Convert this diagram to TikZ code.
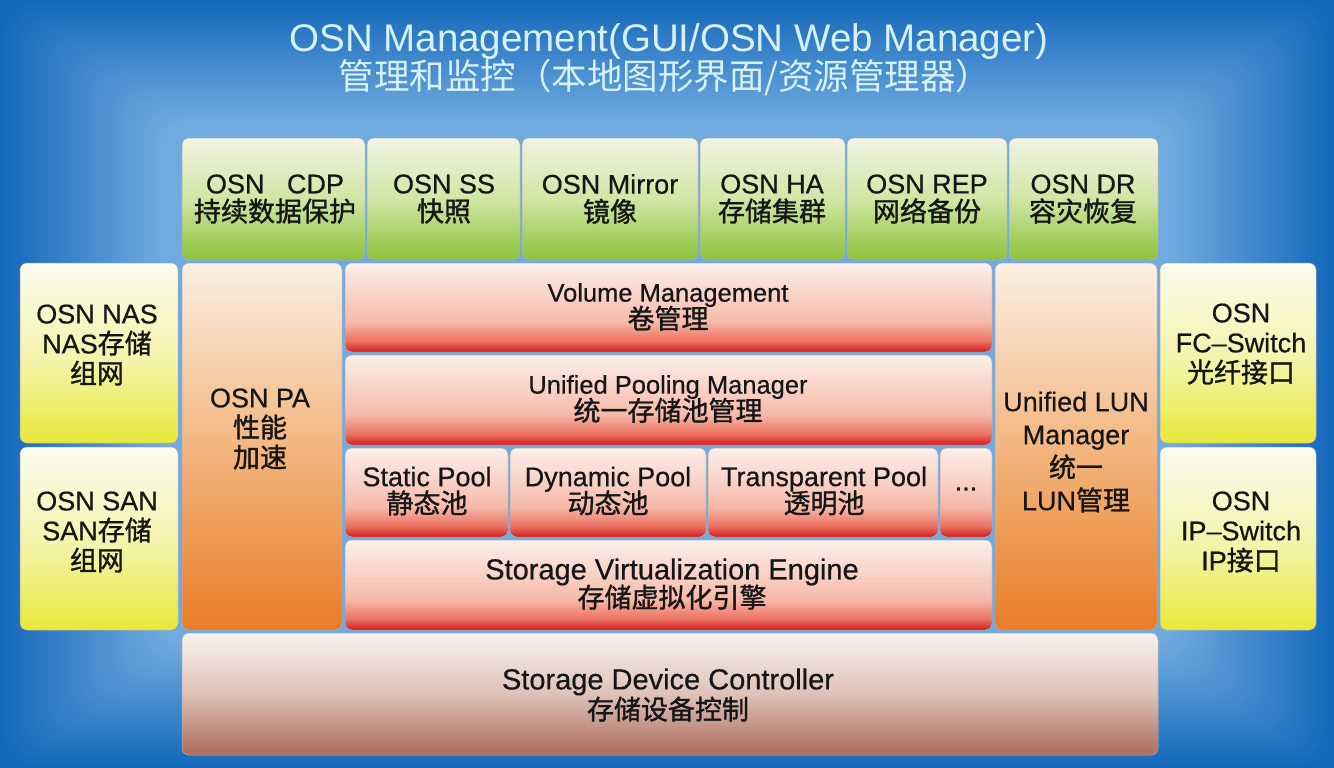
\documentclass[tikz,border=0pt]{standalone}
\usepackage{fontspec}
\setmainfont{Liberation Sans}[FakeBold=0.5]
\newfontfamily\ttlfont{Liberation Sans}
\newfontfamily\cjk{Noto Sans CJK SC}
\newfontfamily\cjkm{Noto Sans CJK SC}[FakeBold=1.2]
\newcommand\zhtxt[1]{{\cjkm #1}}
\definecolor{bgD}{RGB}{20,104,186}
\definecolor{bgL}{RGB}{112,170,224}
\definecolor{txtc}{RGB}{22,22,22}
\definecolor{titc}{RGB}{214,242,248}
\definecolor{greenT}{RGB}{242,244,228}
\definecolor{greenM}{RGB}{208,230,165}
\definecolor{greenB}{RGB}{140,194,58}
\definecolor{yelT}{RGB}{251,251,240}
\definecolor{yelM}{RGB}{244,244,170}
\definecolor{yelB}{RGB}{232,232,58}
\definecolor{orT}{RGB}{251,240,228}
\definecolor{orM}{RGB}{243,182,128}
\definecolor{orB}{RGB}{234,124,38}
\definecolor{redT}{RGB}{252,240,234}
\definecolor{redM}{RGB}{246,186,170}
\definecolor{redM2}{RGB}{236,112,96}
\definecolor{redB}{RGB}{208,28,28}
\definecolor{sdcT}{RGB}{249,242,238}
\definecolor{sdcM}{RGB}{222,194,184}
\definecolor{sdcB}{RGB}{172,108,92}
\pgfdeclareverticalshading{greensh}{100bp}{color(0bp)=(greenB); color(25bp)=(greenB); color(50bp)=(greenM); color(75bp)=(greenT); color(100bp)=(greenT)}
\pgfdeclareverticalshading{yelsh}{100bp}{color(0bp)=(yelB); color(25bp)=(yelB); color(48bp)=(yelM); color(75bp)=(yelT); color(100bp)=(yelT)}
\pgfdeclareverticalshading{orsh}{100bp}{color(0bp)=(orB); color(25bp)=(orB); color(50bp)=(orM); color(75bp)=(orT); color(100bp)=(orT)}
\pgfdeclareverticalshading{redsh}{100bp}{color(0bp)=(redB); color(25bp)=(redB); color(31bp)=(redM2); color(42bp)=(redM); color(75bp)=(redT); color(100bp)=(redT)}
\pgfdeclareverticalshading{sdcsh}{100bp}{color(0bp)=(sdcB); color(25bp)=(sdcB); color(50bp)=(sdcM); color(75bp)=(sdcT); color(100bp)=(sdcT)}
\newcommand\mkbox[6]{\node[#1, minimum width={(#4-#2)*1pt}, minimum height={(#5-#3)*1pt}] (#6) at ({(#2+#4)/2},{(#3+#5)/2}) {};}
\begin{document}
\begin{tikzpicture}[x=1pt,y=-1pt,
  boxb/.style={inner sep=0pt, outer sep=0pt, rounded corners=7pt, draw=black!30, line width=0.5pt, shade},
  gbox/.style={boxb, shading=greensh},
  ybox/.style={boxb, shading=yelsh},
  obox/.style={boxb, shading=orsh},
  rbox/.style={boxb, shading=redsh},
  sbox/.style={boxb, shading=sdcsh},
  txt/.style={align=center, text=txtc, inner sep=0pt, font={\fontsize{27}{#1}\selectfont\lineskiplimit=-100pt\lineskip=0pt}},
  txt/.default=28,
  ttl/.style={align=center, text=titc, inner sep=0pt}]
\useasboundingbox (0,0) rectangle (1334,768);
% background
\fill[bgD] (0,0) rectangle (1334,768);
\foreach \i in {1,...,40} {
  \pgfmathtruncatemacro\p{\i*2.5}
  \fill[bgL!\p!bgD, rounded corners=30pt] ({\i*4},{\i*3}) rectangle ({1334-\i*4},{768-\i*3});
}
% title
\node[ttl, font=\ttlfont\fontsize{38.5}{38}\selectfont] (title1) at (669,42) {OSN Management(GUI/OSN Web Manager)};
\node[ttl, font=\cjk\fontsize{35.5}{36}\selectfont] (title2) at (665,77) {管理和监控（本地图形界面/资源管理器）};
% green row
\mkbox{gbox}{182}{138}{365}{260}{cdp}
\mkbox{gbox}{367}{138}{520}{260}{ss}
\mkbox{gbox}{522}{138}{698}{260}{mir}
\mkbox{gbox}{700}{138}{845}{260}{ha}
\mkbox{gbox}{847}{138}{1007}{260}{rep}
\mkbox{gbox}{1009}{138}{1158}{260}{dr}
% left / right yellow
\mkbox{ybox}{20}{263}{178}{443}{nas}
\mkbox{ybox}{20}{447}{178}{630}{san}
\mkbox{ybox}{1160}{263}{1316}{443}{fc}
\mkbox{ybox}{1160}{447}{1316}{630}{ip}
% orange columns
\mkbox{obox}{182}{263}{342}{630}{pa}
\mkbox{obox}{995}{263}{1157}{630}{lun}
% red stack
\mkbox{rbox}{345}{263}{992}{352}{vol}
\mkbox{rbox}{345}{355}{992}{445}{pool}
\mkbox{rbox}{345}{448}{508}{537}{stat}
\mkbox{rbox}{510}{448}{706}{537}{dyn}
\mkbox{rbox}{708}{448}{938}{537}{trans}
\mkbox{rbox}{940}{448}{992}{537}{more}
\mkbox{rbox}{345}{540}{992}{630}{sve}
% bottom
\mkbox{sbox}{182}{633}{1158}{755}{sdc}
% texts
\node[txt] (cdpT) at (275,199) {OSN\ \ \ CDP\\\zhtxt{持续数据保护}};
\node[txt] (ssT) at (444,199) {OSN SS\\\zhtxt{快照}};
\node[txt] (mirT) at (610,199) {OSN Mirror\\\zhtxt{镜像}};
\node[txt] (haT) at (772,199) {OSN HA\\\zhtxt{存储集群}};
\node[txt] (repT) at (927,199) {OSN REP\\\zhtxt{网络备份}};
\node[txt] (drT) at (1083,199) {OSN DR\\\zhtxt{容灾恢复}};
\node[txt=30] (nasT) at (97,345) {OSN NAS\\NAS\zhtxt{存储}\\\zhtxt{组网}};
\node[txt=30] (sanT) at (97,532) {OSN SAN\\SAN\zhtxt{存储}\\\zhtxt{组网}};
\node[txt=30] (fcT) at (1241,344) {OSN\\FC–Switch\\\zhtxt{光纤接口}};
\node[txt=30] (ipT) at (1241,532) {OSN\\IP–Switch\\IP\zhtxt{接口}};
\node[txt=30] (paT) at (260,429) {OSN PA\\\zhtxt{性能}\\\zhtxt{加速}};
\node[txt=33] (lunT) at (1076,452) {Unified LUN\\Manager\\\zhtxt{统一}\\LUN\zhtxt{管理}};
\node[txt=27] (volT) at (668,307) {\fontsize{25.5}{27}\selectfont Volume Management\\\zhtxt{卷管理}};
\node[txt=27] (poolT) at (668,399) {\fontsize{25.5}{27}\selectfont Unified Pooling Manager\\\zhtxt{统一存储池管理}};
\node[txt=27] (statT) at (427,491) {Static Pool\\\zhtxt{静态池}};
\node[txt=27] (dynT) at (608,491) {Dynamic Pool\\\zhtxt{动态池}};
\node[txt=27] (transT) at (824,491) {Transparent Pool\\\zhtxt{透明池}};
\node[txt] (moreT) at (966,489) {...};
\node[txt=28] (sveT) at (672,584) {\fontsize{29}{28}\selectfont Storage Virtualization Engine\\\zhtxt{存储虚拟化引擎}};
\node[txt=30] (sdcT) at (668,695) {\fontsize{29}{30}\selectfont Storage Device Controller\\\zhtxt{存储设备控制}};
\end{tikzpicture}
\end{document}
